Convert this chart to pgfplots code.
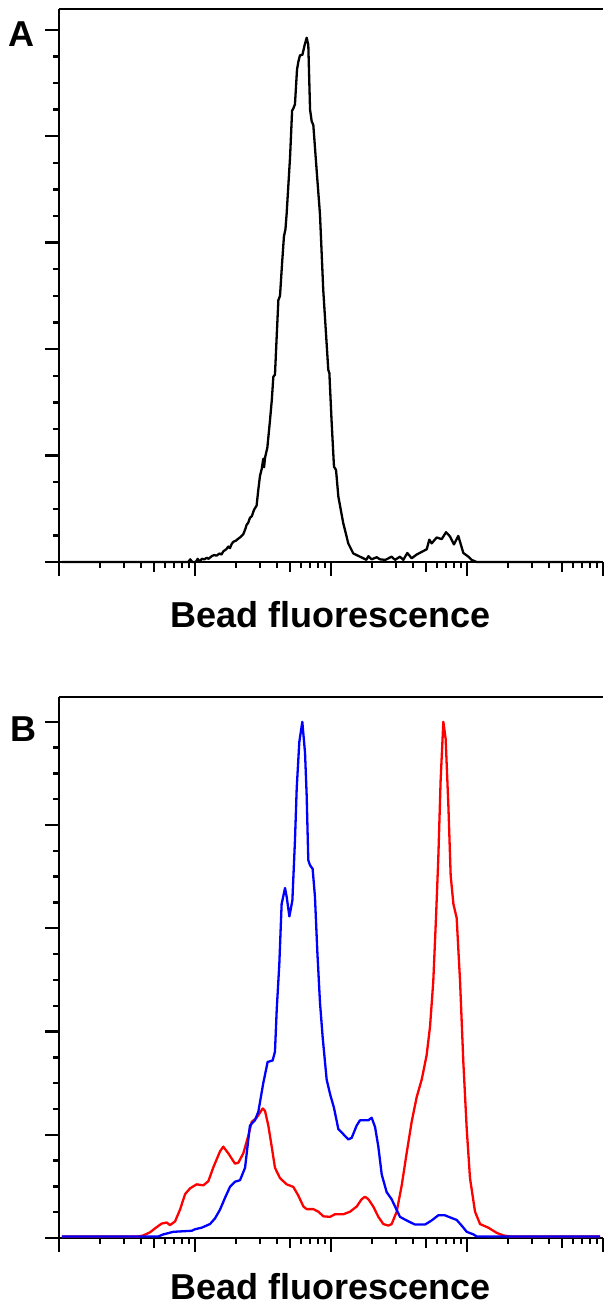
\documentclass[border=0pt]{standalone}
\usepackage{fontspec}
\setmainfont{Liberation Sans}
\usepackage{pgfplots}
\usepackage{pgfplotstable}
\pgfplotsset{compat=1.18}

% x = log10(bead fluorescence), y = % of max count
\pgfplotstableread{
lx y
0.022 0
0.950 0
0.965 0.5
0.980 0
1.005 0
1.020 0.6
1.035 0
1.050 0.6
1.070 0.5
1.086 0.8
1.100 0.6
1.123 1.1
1.140 1.3
1.159 1.2
1.180 1.6
1.195 1.4
1.208 2.0
1.230 2.4
1.245 2.9
1.257 2.6
1.270 3.4
1.282 3.8
1.300 4.0
1.319 4.4
1.335 4.7
1.355 5.2
1.370 6.2
1.380 7.0
1.392 7.4
1.404 8.3
1.418 8.6
1.434 9.8
1.453 10.6
1.466 13.7
1.478 16.2
1.490 17.4
1.502 19.4
1.508 17.8
1.515 19.6
1.532 21.5
1.551 26.5
1.565 30.5
1.576 34.8
1.588 35.2
1.600 42.0
1.613 49.2
1.625 50.0
1.640 56.0
1.654 61.2
1.665 62.5
1.674 65.5
1.699 76.1
1.714 84.8
1.723 85.2
1.735 86.0
1.750 92.5
1.760 94.0
1.772 95.2
1.790 95.3
1.805 97.0
1.821 98.5
1.833 97.2
1.846 85.0
1.858 82.8
1.870 82.1
1.895 73.4
1.919 65.3
1.943 51.1
1.980 36.1
1.988 35.5
2.005 26.1
2.022 17.9
2.037 17.3
2.054 12.3
2.090 7.3
2.127 3.5
2.164 1.6
2.213 1.0
2.238 0.7
2.260 0.4
2.275 1.1
2.299 0.5
2.336 0.9
2.360 0.5
2.400 0.4
2.446 1.0
2.471 0.4
2.507 1.0
2.532 0.4
2.561 1.7
2.593 0.7
2.630 1.4
2.667 1.9
2.704 2.4
2.723 4.2
2.740 3.5
2.777 4.6
2.814 4.3
2.846 5.6
2.875 4.8
2.904 3.3
2.936 4.9
2.973 1.7
3.010 1.0
3.034 0.4
3.071 0
3.978 0
}\histA

\pgfplotstableread{
lx y
0.022 0.3
0.583 0.3
0.620 0.5
0.669 1.1
0.718 2.1
0.755 2.8
0.792 3.0
0.816 2.5
0.853 3.2
0.890 5.5
0.927 8.5
0.963 9.6
1.012 10.4
1.061 10.2
1.098 11.0
1.135 13.7
1.184 16.8
1.208 17.7
1.245 16.4
1.294 14.4
1.319 14.6
1.355 16.4
1.392 19.8
1.417 22.5
1.453 23.3
1.498 25.1
1.515 24.6
1.539 21.8
1.564 17.7
1.588 13.6
1.625 11.6
1.674 10.4
1.723 9.9
1.760 8.2
1.797 6.1
1.821 5.6
1.870 5.6
1.907 5.1
1.944 4.2
1.993 4.1
2.029 4.6
2.091 4.6
2.140 5.1
2.189 6.1
2.225 7.5
2.250 8.0
2.275 7.5
2.311 6.1
2.348 4.1
2.385 2.7
2.422 2.4
2.446 2.7
2.483 5.1
2.520 10.2
2.556 16.4
2.593 22.5
2.630 27.3
2.667 30.7
2.703 35.4
2.728 40.9
2.752 49.7
2.772 62.0
2.789 73.6
2.806 88.6
2.826 100
2.843 96.7
2.863 83.8
2.880 70.2
2.900 64.7
2.924 62.0
2.949 49.7
2.973 34.1
2.998 21.1
3.022 11.6
3.059 5.1
3.096 2.7
3.157 2.0
3.218 1.0
3.267 0.5
3.316 0.3
3.978 0.3
}\histBred

\pgfplotstableread{
lx y
0.022 0.3
0.730 0.3
0.767 0.7
0.841 1.2
0.976 1.4
1.000 1.7
1.049 2.0
1.110 2.7
1.147 3.8
1.184 5.5
1.221 7.8
1.257 9.9
1.294 10.9
1.331 11.2
1.368 13.6
1.404 21.8
1.441 22.8
1.466 24.5
1.502 30.0
1.534 34.1
1.571 34.4
1.588 36.1
1.601 44.3
1.620 53.1
1.637 64.7
1.662 67.8
1.674 66.1
1.694 62.3
1.716 65.4
1.735 77.0
1.748 87.2
1.767 96.1
1.789 100
1.809 94.0
1.821 85.8
1.833 73.2
1.846 72.2
1.865 71.5
1.882 66.1
1.900 55.2
1.919 45.6
1.939 38.8
1.968 30.7
1.993 27.9
2.022 25.2
2.054 21.1
2.091 20.1
2.127 19.1
2.152 19.4
2.189 21.8
2.213 22.8
2.274 22.8
2.299 23.3
2.324 21.5
2.348 17.7
2.373 12.3
2.409 8.9
2.446 7.5
2.471 6.1
2.507 4.1
2.556 3.4
2.618 2.6
2.691 2.6
2.740 3.4
2.789 4.4
2.838 4.4
2.875 4.0
2.924 3.5
2.961 2.4
2.998 1.2
3.047 0.7
3.071 0.3
3.978 0.3
}\histBblue

\pgfplotsset{
  flowaxis/.style={
    scale only axis,
    width=272pt,
    xmin=0, xmax=4, ymin=0,
    axis x line*=box, axis y line*=left,
    xtick pos=left, ytick pos=left,
    tick align=outside,
    xtick={0,1,2,3,4}, xticklabels={},
    minor xtick={0.301,0.477,0.602,0.778,0.845,0.903,0.954,
                 1.301,1.477,1.602,1.778,1.845,1.903,1.954,
                 2.301,2.477,2.602,2.778,2.845,2.903,2.954,
                 3.301,3.477,3.602,3.778,3.845,3.903,3.954},
    extra x ticks={0.699,1.699,2.699,3.699}, extra x tick labels={},
    extra x tick style={major tick length=5pt, xtick pos=left},
    ytick={0,20,40,60,80,100}, yticklabels={}, minor y tick num=3,
    major tick length=7pt, minor tick length=2.8pt,
    every tick/.style={black, line width=1.2pt},
    axis line style={black, line width=1.4pt},
    xlabel={Bead fluorescence},
    xlabel style={at={(axis description cs:0.5,0)}, anchor=base,
                  font=\fontsize{18}{20}\selectfont\bfseries, inner sep=0pt},
    clip=false,
    every axis plot/.append style={line width=1.15pt, line join=round},
  }
}

\begin{document}
\begin{tikzpicture}
\begin{axis}[flowaxis, height=276.5pt, ymax=103.9,
             xlabel style={yshift=-33pt}]
  \addplot[black] table[x=lx, y=y] {\histA};
\end{axis}
\node[anchor=base west, inner sep=0pt, font=\fontsize{18}{20}\selectfont\bfseries]
  at (-25.5pt,257.5pt) {A};

\begin{axis}[flowaxis, at={(0,-338pt)}, anchor=south west,
             height=270.5pt, ymax=104.8, xlabel style={yshift=-30.5pt}]
  \addplot[red] table[x=lx, y=y] {\histBred};
  \addplot[blue] table[x=lx, y=y] {\histBblue};
\end{axis}
\node[anchor=base west, inner sep=0pt, font=\fontsize{18}{20}\selectfont\bfseries]
  at (-24.5pt,-89.5pt) {B};

\pgfresetboundingbox
\useasboundingbox (-29.5pt,-371.5pt) rectangle (272.5pt,281pt);
\end{tikzpicture}
\end{document}
